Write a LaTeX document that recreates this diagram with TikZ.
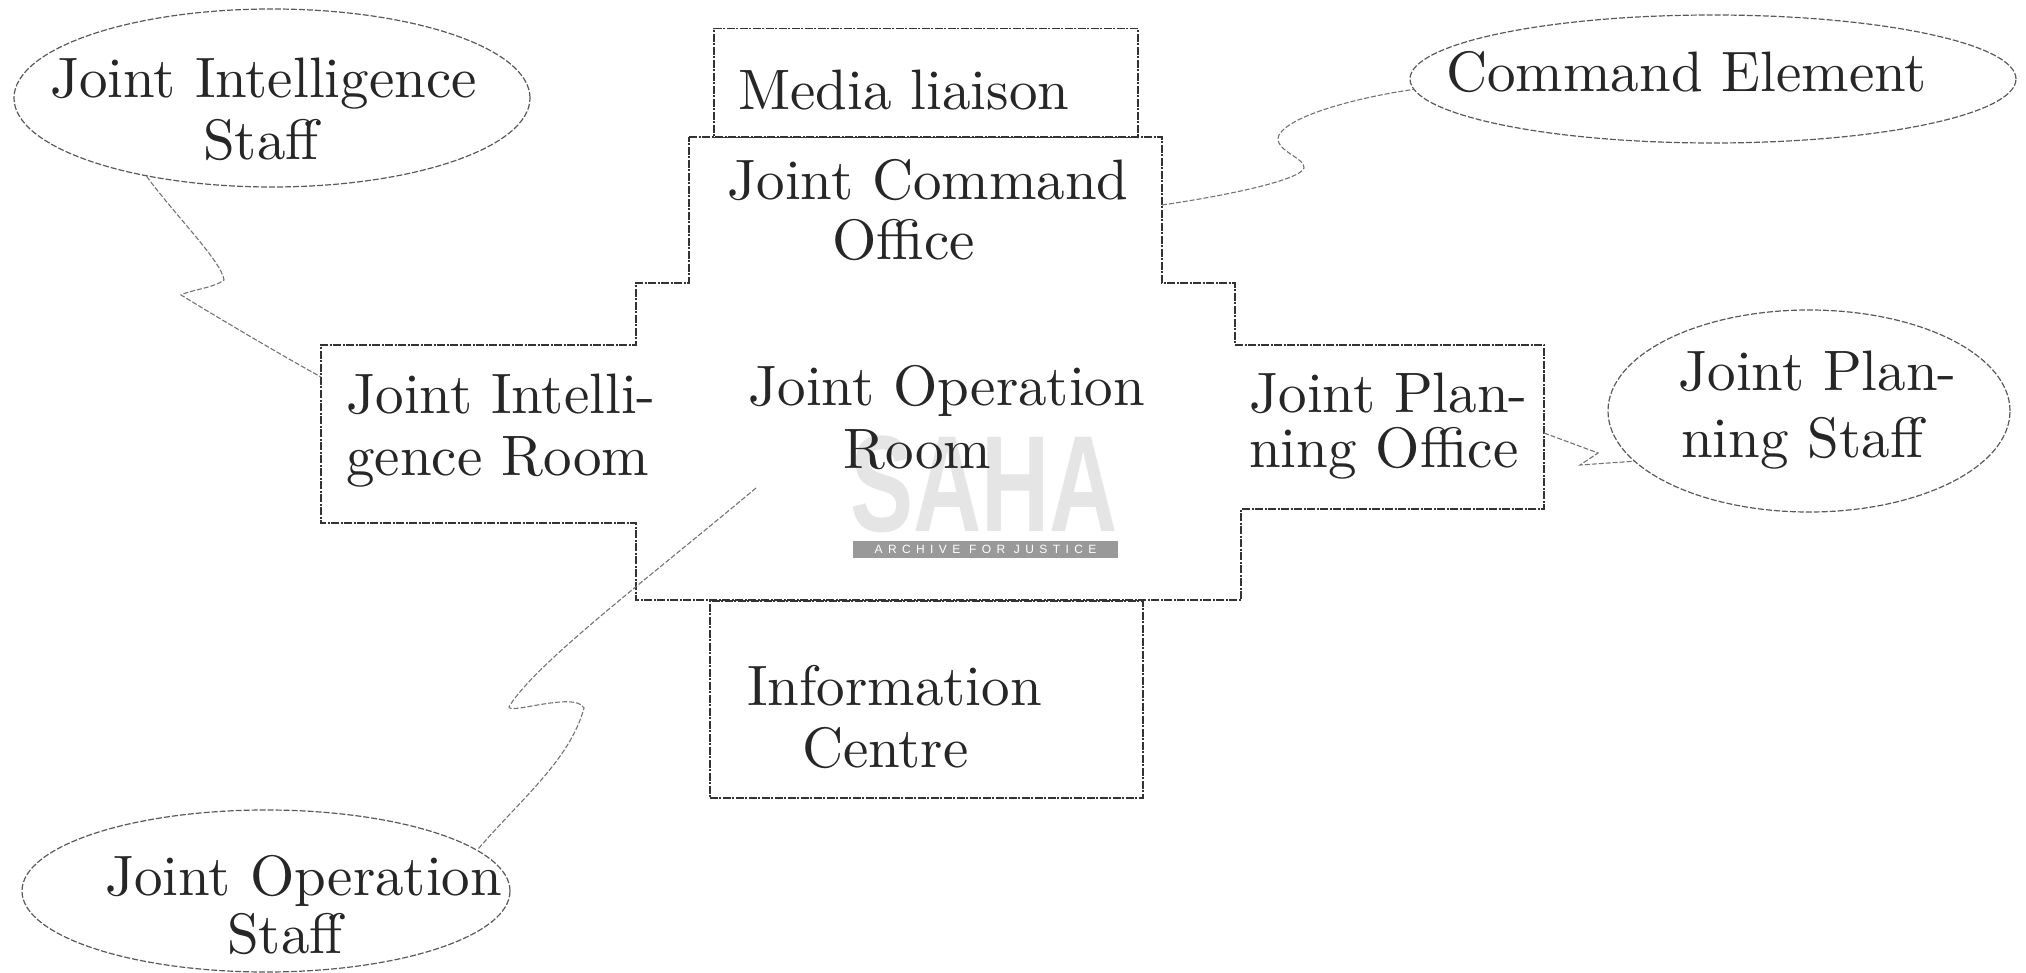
\documentclass[tikz,border=0pt]{standalone}
\usepackage{fontspec}
\setmainfont{lmroman10-regular}[Extension=.otf]
\newfontfamily\wmfont{Liberation Sans}
\usetikzlibrary{shapes.geometric}
\begin{document}
\begin{tikzpicture}[x=1pt,y=-1pt,
  outline/.style={draw=black!80, line width=1.5pt, dash pattern=on 8pt off 1.5pt on 2pt off 1.5pt},
  roombox/.style={rectangle, outline, anchor=north west, inner sep=0pt},
  conn/.style={draw=black!55, line width=1.1pt, dash pattern=on 5pt off 2pt},
  oval/.style={ellipse, draw=black!65, line width=1.2pt, dash pattern=on 6pt off 2pt, inner sep=0pt},
  lbl/.style={anchor=base west, inner sep=0pt, text=black!85, font=\fontsize{57}{62}\selectfont}]
\useasboundingbox (0,0) rectangle (2026,973);

% watermark
\node[text=black!10, inner sep=0pt, xscale=0.69, font=\wmfont\bfseries\fontsize{137}{137}\selectfont] (wm) at (984,484) {SAHA};
\node[fill=black!40, text=white, minimum width=265pt, minimum height=17pt, inner sep=0pt, font=\wmfont\fontsize{12}{12}\selectfont] (wmbar) at (985.5,549) {\addfontfeature{LetterSpace=45}ARCHIVE FOR JUSTICE};

% rooms
\node[roombox, minimum width=424pt, minimum height=109pt] (media) at (713,28) {};
\node[roombox, minimum width=433pt, minimum height=197pt] (info) at (709,600) {};
\draw[outline] (689,137) -- (1162,137) -- (1162,283) -- (1235,283) -- (1235,345)
  -- (1544,345) -- (1544,509) -- (1241,509) -- (1241,600) -- (636,600) -- (636,523)
  -- (321,523) -- (321,345) -- (636,345) -- (636,283) -- (689,283) -- cycle;

\coordinate (jcoE) at (1162,205);
\coordinate (jirW) at (321,377);
\coordinate (jpoE) at (1544,433);
\coordinate (jorP) at (756,488);

% staff ellipses
\node[oval, minimum width=516pt, minimum height=178pt] (jis) at (272,98) {};
\node[oval, minimum width=606pt, minimum height=128pt] (ce) at (1713,79) {};
\node[oval, minimum width=402pt, minimum height=202pt] (jps) at (1809,411) {};
\node[oval, minimum width=488pt, minimum height=162pt] (jos) at (266,891) {};

% connectors
\draw[conn] (jis.212) .. controls (175,215) and (222,262) .. (224,280)
  .. controls (214,288) and (190,290) .. (181,295)
  .. controls (230,325) and (290,360) .. (jirW);
\draw[conn] (jcoE) .. controls (1230,195) and (1300,180) .. (1304,168)
  .. controls (1306,158) and (1272,150) .. (1279,135)
  .. controls (1290,115) and (1360,97) .. (ce.182);
\draw[conn] (jpoE) -- (1598,453) -- (1580,465) -- (jps.196);
\draw[conn] (jorP) .. controls (640,585) and (540,660) .. (510,705)
  .. controls (500,718) and (575,690) .. (584,708)
  .. controls (570,760) and (520,800) .. (jos.11);

% labels
\node[lbl] (t1) at (738,110) {Media liaison};
\node[lbl] (t2) at (727,200) {Joint Command};
\node[lbl] (t3) at (832,260) {Office};
\node[lbl] (t4) at (346,413) {Joint Intelli-};
\node[lbl] (t5) at (346,475) {gence Room};
\node[lbl] (t6) at (748,405) {Joint Operation};
\node[lbl] (t7) at (843,468) {Room};
\node[lbl] (t8) at (1249,412) {Joint Plan-};
\node[lbl] (t9) at (1249,467) {ning Office};
\node[lbl] (t10) at (747,705) {Information};
\node[lbl] (t11) at (802,767) {Centre};
\node[lbl] (t12) at (50,98) {Joint Intelligence};
\node[lbl] (t13) at (203,160) {Staff};
\node[lbl] (t14) at (1446,92) {Command Element};
\node[lbl] (t15) at (1678,390) {Joint Plan-};
\node[lbl] (t16) at (1681,457) {ning Staff};
\node[lbl] (t17) at (105,895) {Joint Operation};
\node[lbl] (t18) at (227,953) {Staff};
\end{tikzpicture}
\end{document}
